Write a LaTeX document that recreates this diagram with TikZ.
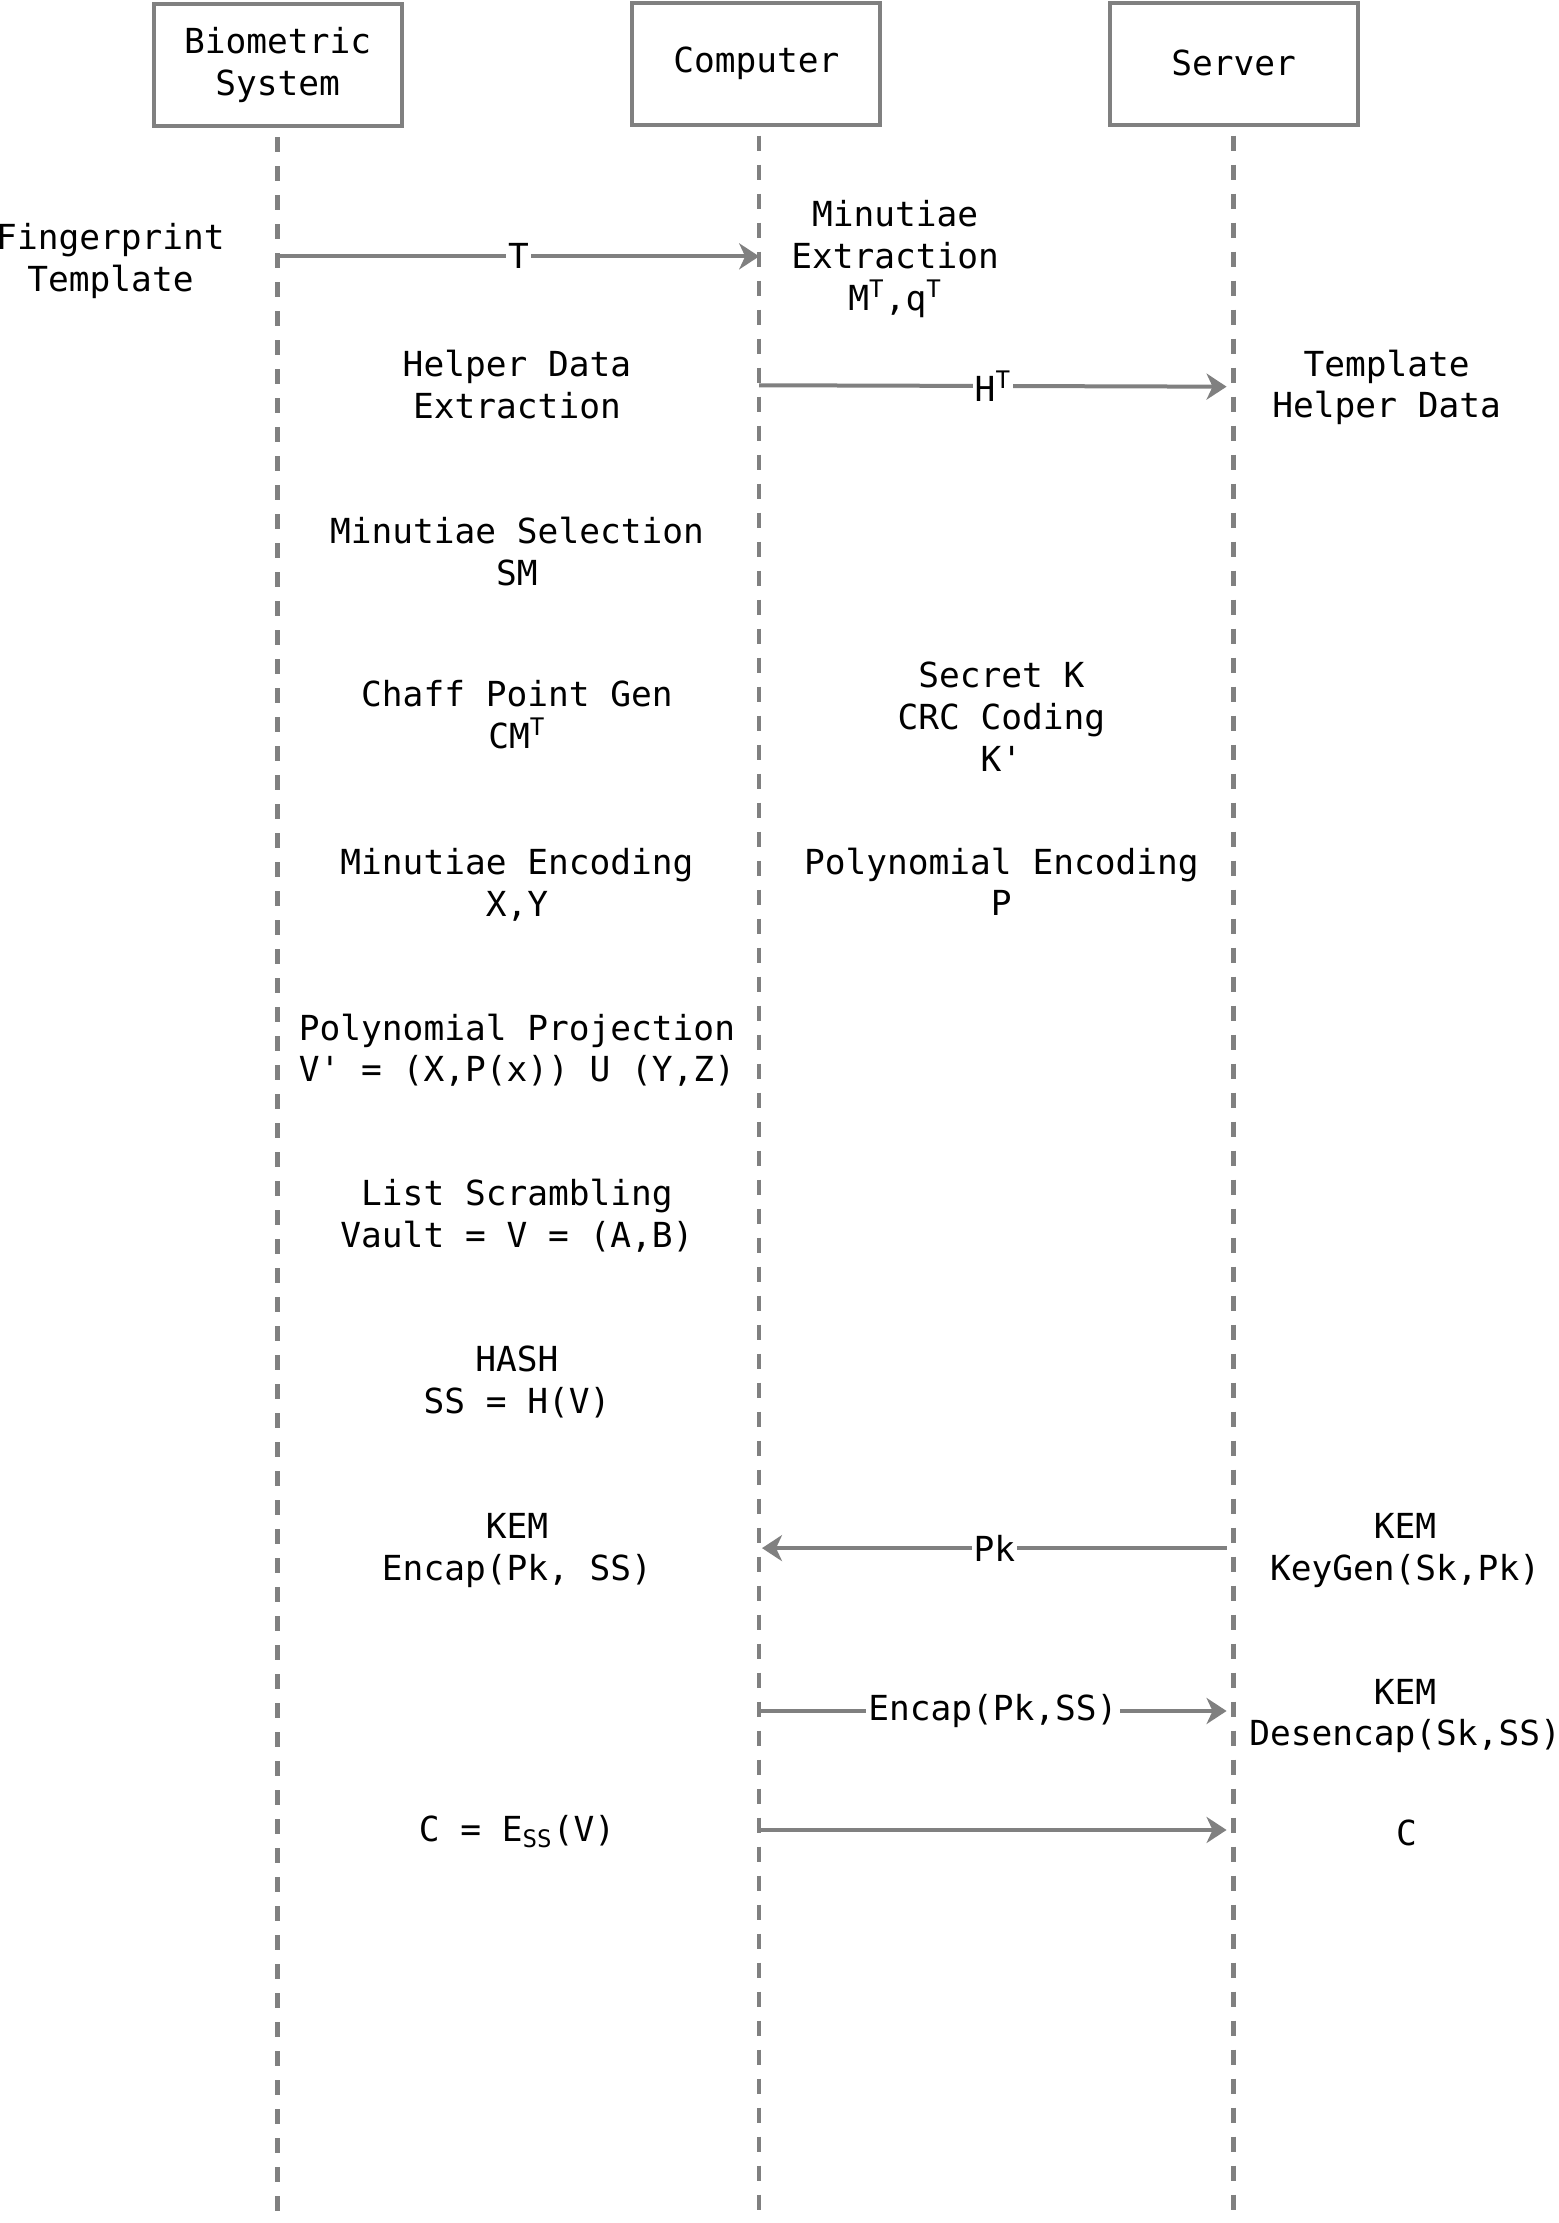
\documentclass[tikz,border=0pt]{standalone}
\usepackage{fontspec}
\newfontfamily\diafont{DejaVu Sans Mono}
\usetikzlibrary{arrows.meta}

\definecolor{linegray}{HTML}{808080}

\begin{document}
\begin{tikzpicture}[x=0.7082pt, y=-0.7082pt,
  every node/.style={font=\diafont\fontsize{17.25}{20.9}\selectfont, align=center, inner sep=0pt},
  actor/.style={draw=linegray, line width=2pt, minimum width=124pt, minimum height=61pt, inner sep=0pt},
  lifeline/.style={draw=linegray, line width=2.2pt, dash pattern=on 7.5pt off 7pt, dash phase=10pt},
  msg/.style={draw=linegray, line width=2pt, -{Stealth[length=10pt, width=13pt, inset=3pt]}},
  msglabel/.style={fill=white, inner xsep=1pt, inner ysep=1pt}]
\useasboundingbox (0,0) rectangle (1100,1569.5);

% actors and lifelines
\node [actor] (bio) at (196,46) {Biometric\\System};
\node [actor] (comp) at (534,45) {\raisebox{-2pt}{Computer}};
\node [actor] (serv) at (871,45) {\raisebox{0.7pt}{Server}};
\coordinate (bioend) at (196,1569.5);
\coordinate (compend) at (536,1569.5);
\coordinate (servend) at (871,1569.5);
\draw [lifeline] (bio.south) -- (bioend);
\draw [lifeline] (comp.south -| compend) -- (compend);
\draw [lifeline] (serv.south) -- (servend);

% steps
\node (fp) at (78,184.5) {Fingerprint\\Template};
\node (mex) at (632,183) {Minutiae\\Extraction\\M\textsuperscript{T},q\textsuperscript{T}};
\node (hde) at (365,271.5) {Helper Data\\Extraction};
\node (thd) at (979,273.5) {Template\\Helper Data};
\node (msel) at (365,389.5) {Minutiae Selection\\SM};
\node (cpg) at (365,504.5) {Chaff Point Gen\\CM\textsuperscript{T}};
\node (crc) at (707,506) {Secret K\\CRC Coding\\K'};
\node (menc) at (365,624.5) {Minutiae Encoding\\X,Y};
\node (penc) at (707,622.5) {Polynomial Encoding\\P};
\node (pproj) at (365,741.5) {Polynomial Projection\\V' = (X,P(x)) U (Y,Z)};
\node (lscr) at (365,858.5) {List Scrambling\\Vault = V = (A,B)};
\node (hash) at (365,975.5) {HASH\\SS = H(V)};
\node (kemenc) at (365,1094.5) {KEM\\Encap(Pk, SS)};
\node (kemkg) at (992,1094.5) {KEM\\KeyGen(Sk,Pk)};
\node (kemdes) at (992,1211.5) {KEM\\Desencap(Sk,SS)};
\node (cenc) at (365,1293) {C = E\textsubscript{SS}(V)};
\node (cc) at (993,1294) {C};

% messages
\coordinate (t1) at (196,181);
\coordinate (t2) at (536,181);
\coordinate (h1) at (536,272);
\coordinate (h2) at (866,273);
\coordinate (p1) at (866,1093);
\coordinate (p2) at (538,1093);
\coordinate (e1) at (536,1208);
\coordinate (e2) at (866,1208);
\coordinate (c1) at (536,1292);
\coordinate (c2) at (866,1292);
\draw [msg] (t1) -- node [msglabel] (tlab) {T} (t2);
\draw [msg] (h1) -- node [msglabel] (hlab) {H\textsuperscript{T}} (h2);
\draw [msg] (p1) -- node [msglabel] (plab) {Pk} (p2);
\draw [msg] (e1) -- node [msglabel] (elab) {Encap(Pk,SS)} (e2);
\draw [msg] (c1) -- (c2);
\end{tikzpicture}
\end{document}
